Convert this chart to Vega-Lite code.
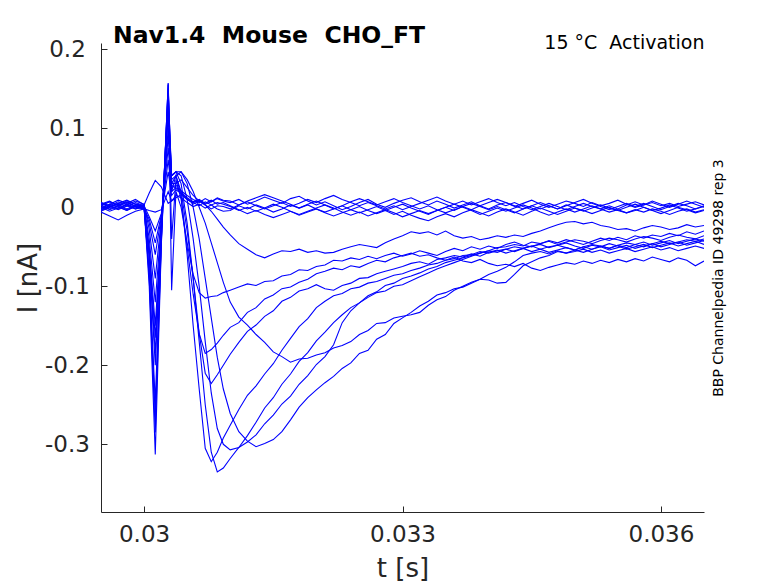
{
  "$schema": "https://vega.github.io/schema/vega-lite/v6.json",
  "width": 603,
  "height": 469,
  "autosize": {"type": "none"},
  "padding": {"left": 101, "top": 43, "right": 74, "bottom": 71},
  "background": "#ffffff",
  "title": {
    "text": "Nav1.4\u00a0\u00a0Mouse\u00a0\u00a0CHO_FT",
    "anchor": "start",
    "frame": "group",
    "dx": 12,
    "dy": 34,
    "offset": 1,
    "baseline": "alphabetic",
    "font": "DejaVu Sans",
    "fontSize": 23.5,
    "fontWeight": "bold",
    "color": "#000000"
  },
  "data": {
    "values": [
{"k":1,"t":0.0295,"i":0.004},{"k":1,"t":0.0296,"i":0.008},{"k":1,"t":0.0297,"i":0.002},{"k":1,"t":0.0298,"i":0.006},{"k":1,"t":0.0299,"i":0.001},{"k":1,"t":0.03,"i":0.003},
{"k":1,"t":0.03006,"i":0.018},{"k":1,"t":0.03013,"i":0.034},{"k":1,"t":0.0302,"i":0.026},{"k":1,"t":0.03028,"i":0.005},{"k":1,"t":0.03032,"i":0.008},{"k":1,"t":0.03037,"i":0.012},{"k":1,"t":0.03043,"i":0.016},{"k":1,"t":0.0305,"i":0.010},{"k":1,"t":0.03057,"i":0.006},{"k":1,"t":0.03064,"i":0.009},{"k":1,"t":0.03071,"i":0.004},{"k":1,"t":0.03078,"i":0.007},{"k":1,"t":0.03085,"i":0.011},{"k":1,"t":0.03092,"i":0.008},
{"k":1,"t":0.031,"i":0.006},{"k":1,"t":0.0311,"i":0.010},{"k":1,"t":0.0312,"i":0.004},{"k":1,"t":0.0313,"i":0.008},{"k":1,"t":0.0314,"i":0.013},{"k":1,"t":0.0315,"i":0.009},{"k":1,"t":0.0316,"i":0.005},{"k":1,"t":0.0317,"i":0.011},{"k":1,"t":0.0318,"i":0.014},{"k":1,"t":0.0319,"i":0.008},
{"k":1,"t":0.032,"i":0.003},{"k":1,"t":0.0321,"i":0.007},{"k":1,"t":0.0322,"i":0.002},{"k":1,"t":0.0323,"i":-0.003},{"k":1,"t":0.0324,"i":0.001},{"k":1,"t":0.0325,"i":0.006},{"k":1,"t":0.0326,"i":0.010},{"k":1,"t":0.0327,"i":0.004},{"k":1,"t":0.0328,"i":0.000},{"k":1,"t":0.0329,"i":0.005},
{"k":1,"t":0.033,"i":0.009},{"k":1,"t":0.0331,"i":0.012},{"k":1,"t":0.0332,"i":0.007},{"k":1,"t":0.0333,"i":0.003},{"k":1,"t":0.0334,"i":0.008},{"k":1,"t":0.0335,"i":0.004},{"k":1,"t":0.0336,"i":-0.001},{"k":1,"t":0.0337,"i":0.003},{"k":1,"t":0.0338,"i":0.007},{"k":1,"t":0.0339,"i":0.002},
{"k":1,"t":0.034,"i":-0.002},{"k":1,"t":0.0341,"i":0.003},{"k":1,"t":0.0342,"i":0.006},{"k":1,"t":0.0343,"i":0.001},{"k":1,"t":0.0344,"i":0.005},{"k":1,"t":0.0345,"i":0.009},{"k":1,"t":0.0346,"i":0.004},{"k":1,"t":0.0347,"i":0.000},{"k":1,"t":0.0348,"i":0.004},{"k":1,"t":0.0349,"i":0.008},
{"k":1,"t":0.035,"i":0.005},{"k":1,"t":0.0351,"i":0.001},{"k":1,"t":0.0352,"i":0.006},{"k":1,"t":0.0353,"i":0.002},{"k":1,"t":0.0354,"i":0.005},{"k":1,"t":0.0355,"i":0.009},{"k":1,"t":0.0356,"i":0.004},{"k":1,"t":0.0357,"i":0.000},{"k":1,"t":0.0358,"i":0.003},{"k":1,"t":0.0359,"i":0.006},
{"k":1,"t":0.036,"i":0.002},{"k":1,"t":0.0361,"i":0.005},{"k":1,"t":0.0362,"i":0.001},{"k":1,"t":0.0363,"i":0.004},{"k":1,"t":0.0364,"i":0.007},{"k":1,"t":0.0365,"i":0.003},

{"k":2,"t":0.0295,"i":-0.003},{"k":2,"t":0.0296,"i":0.002},{"k":2,"t":0.0297,"i":-0.002},{"k":2,"t":0.0298,"i":0.004},{"k":2,"t":0.0299,"i":0.000},{"k":2,"t":0.03,"i":-0.002},
{"k":2,"t":0.03006,"i":-0.004},{"k":2,"t":0.03013,"i":-0.006},{"k":2,"t":0.0302,"i":-0.003},{"k":2,"t":0.03028,"i":0.020},{"k":2,"t":0.03032,"i":0.008},{"k":2,"t":0.03037,"i":0.015},{"k":2,"t":0.03043,"i":0.012},{"k":2,"t":0.0305,"i":0.006},{"k":2,"t":0.03057,"i":0.001},{"k":2,"t":0.03064,"i":0.004},{"k":2,"t":0.03071,"i":-0.001},{"k":2,"t":0.03078,"i":0.003},{"k":2,"t":0.03085,"i":-0.002},{"k":2,"t":0.03092,"i":-0.005},
{"k":2,"t":0.031,"i":-0.004},{"k":2,"t":0.0311,"i":0.002},{"k":2,"t":0.0312,"i":-0.002},{"k":2,"t":0.0313,"i":0.003},{"k":2,"t":0.0314,"i":-0.001},{"k":2,"t":0.0315,"i":-0.006},{"k":2,"t":0.0316,"i":-0.002},{"k":2,"t":0.0317,"i":0.003},{"k":2,"t":0.0318,"i":-0.001},{"k":2,"t":0.0319,"i":0.004},
{"k":2,"t":0.032,"i":0.008},{"k":2,"t":0.0321,"i":0.003},{"k":2,"t":0.0322,"i":-0.002},{"k":2,"t":0.0323,"i":0.002},{"k":2,"t":0.0324,"i":-0.003},{"k":2,"t":0.0325,"i":-0.007},{"k":2,"t":0.0326,"i":-0.003},{"k":2,"t":0.0327,"i":0.001},{"k":2,"t":0.0328,"i":-0.004},{"k":2,"t":0.0329,"i":0.000},
{"k":2,"t":0.033,"i":0.004},{"k":2,"t":0.0331,"i":-0.001},{"k":2,"t":0.0332,"i":-0.005},{"k":2,"t":0.0333,"i":-0.009},{"k":2,"t":0.0334,"i":-0.004},{"k":2,"t":0.0335,"i":0.000},{"k":2,"t":0.0336,"i":-0.004},{"k":2,"t":0.0337,"i":0.001},{"k":2,"t":0.0338,"i":0.005},{"k":2,"t":0.0339,"i":0.001},
{"k":2,"t":0.034,"i":-0.003},{"k":2,"t":0.0341,"i":0.001},{"k":2,"t":0.0342,"i":-0.003},{"k":2,"t":0.0343,"i":-0.007},{"k":2,"t":0.0344,"i":-0.002},{"k":2,"t":0.0345,"i":0.002},{"k":2,"t":0.0346,"i":-0.002},{"k":2,"t":0.0347,"i":0.002},{"k":2,"t":0.0348,"i":-0.002},{"k":2,"t":0.0349,"i":0.003},
{"k":2,"t":0.035,"i":-0.001},{"k":2,"t":0.0351,"i":-0.005},{"k":2,"t":0.0352,"i":-0.001},{"k":2,"t":0.0353,"i":0.003},{"k":2,"t":0.0354,"i":-0.001},{"k":2,"t":0.0355,"i":-0.004},{"k":2,"t":0.0356,"i":0.000},{"k":2,"t":0.0357,"i":0.004},{"k":2,"t":0.0358,"i":0.000},{"k":2,"t":0.0359,"i":-0.004},
{"k":2,"t":0.036,"i":-0.001},{"k":2,"t":0.0361,"i":0.003},{"k":2,"t":0.0362,"i":-0.001},{"k":2,"t":0.0363,"i":-0.005},{"k":2,"t":0.0364,"i":-0.002},{"k":2,"t":0.0365,"i":0.001},

{"k":3,"t":0.0295,"i":0.006},{"k":3,"t":0.0296,"i":0.001},{"k":3,"t":0.0297,"i":0.005},{"k":3,"t":0.0298,"i":0.009},{"k":3,"t":0.0299,"i":0.004},{"k":3,"t":0.03,"i":0.002},
{"k":3,"t":0.03006,"i":-0.012},{"k":3,"t":0.03013,"i":-0.030},{"k":3,"t":0.0302,"i":-0.008},{"k":3,"t":0.03028,"i":0.045},{"k":3,"t":0.03032,"i":0.015},{"k":3,"t":0.03037,"i":0.022},{"k":3,"t":0.03043,"i":0.018},{"k":3,"t":0.0305,"i":0.012},{"k":3,"t":0.03057,"i":0.007},{"k":3,"t":0.03064,"i":0.010},{"k":3,"t":0.03071,"i":0.005},{"k":3,"t":0.03078,"i":0.009},{"k":3,"t":0.03085,"i":0.004},{"k":3,"t":0.03092,"i":0.006},
{"k":3,"t":0.031,"i":0.002},{"k":3,"t":0.0311,"i":-0.003},{"k":3,"t":0.0312,"i":-0.008},{"k":3,"t":0.0313,"i":-0.004},{"k":3,"t":0.0314,"i":-0.009},{"k":3,"t":0.0315,"i":-0.013},{"k":3,"t":0.0316,"i":-0.009},{"k":3,"t":0.0317,"i":-0.005},{"k":3,"t":0.0318,"i":-0.010},{"k":3,"t":0.0319,"i":-0.006},
{"k":3,"t":0.032,"i":-0.002},{"k":3,"t":0.0321,"i":-0.007},{"k":3,"t":0.0322,"i":-0.011},{"k":3,"t":0.0323,"i":-0.007},{"k":3,"t":0.0324,"i":-0.003},{"k":3,"t":0.0325,"i":0.001},{"k":3,"t":0.0326,"i":-0.004},{"k":3,"t":0.0327,"i":-0.008},{"k":3,"t":0.0328,"i":-0.004},{"k":3,"t":0.0329,"i":-0.009},
{"k":3,"t":0.033,"i":-0.005},{"k":3,"t":0.0331,"i":-0.010},{"k":3,"t":0.0332,"i":-0.014},{"k":3,"t":0.0333,"i":-0.017},{"k":3,"t":0.0334,"i":-0.012},{"k":3,"t":0.0335,"i":-0.008},{"k":3,"t":0.0336,"i":-0.012},{"k":3,"t":0.0337,"i":-0.007},{"k":3,"t":0.0338,"i":-0.003},{"k":3,"t":0.0339,"i":-0.007},
{"k":3,"t":0.034,"i":-0.011},{"k":3,"t":0.0341,"i":-0.006},{"k":3,"t":0.0342,"i":-0.002},{"k":3,"t":0.0343,"i":-0.006},{"k":3,"t":0.0344,"i":-0.010},{"k":3,"t":0.0345,"i":-0.005},{"k":3,"t":0.0346,"i":-0.001},{"k":3,"t":0.0347,"i":-0.005},{"k":3,"t":0.0348,"i":-0.009},{"k":3,"t":0.0349,"i":-0.005},
{"k":3,"t":0.035,"i":-0.001},{"k":3,"t":0.0351,"i":-0.004},{"k":3,"t":0.0352,"i":-0.008},{"k":3,"t":0.0353,"i":-0.004},{"k":3,"t":0.0354,"i":0.000},{"k":3,"t":0.0355,"i":-0.004},{"k":3,"t":0.0356,"i":-0.007},{"k":3,"t":0.0357,"i":-0.003},{"k":3,"t":0.0358,"i":-0.006},{"k":3,"t":0.0359,"i":-0.002},
{"k":3,"t":0.036,"i":-0.005},{"k":3,"t":0.0361,"i":-0.009},{"k":3,"t":0.0362,"i":-0.005},{"k":3,"t":0.0363,"i":-0.002},{"k":3,"t":0.0364,"i":-0.006},{"k":3,"t":0.0365,"i":-0.003},

{"k":4,"t":0.0295,"i":-0.006},{"k":4,"t":0.0296,"i":-0.011},{"k":4,"t":0.0297,"i":-0.016},{"k":4,"t":0.0298,"i":-0.010},{"k":4,"t":0.0299,"i":-0.005},{"k":4,"t":0.03,"i":-0.002},
{"k":4,"t":0.03006,"i":-0.015},{"k":4,"t":0.03013,"i":-0.045},{"k":4,"t":0.0302,"i":-0.010},{"k":4,"t":0.03028,"i":0.060},{"k":4,"t":0.03032,"i":0.020},{"k":4,"t":0.03037,"i":0.025},{"k":4,"t":0.03043,"i":0.021},{"k":4,"t":0.0305,"i":0.015},{"k":4,"t":0.03057,"i":0.010},{"k":4,"t":0.03064,"i":0.006},{"k":4,"t":0.03071,"i":0.011},{"k":4,"t":0.03078,"i":0.007},{"k":4,"t":0.03085,"i":0.012},{"k":4,"t":0.03092,"i":0.009},
{"k":4,"t":0.031,"i":0.008},{"k":4,"t":0.0311,"i":0.003},{"k":4,"t":0.0312,"i":0.007},{"k":4,"t":0.0313,"i":0.002},{"k":4,"t":0.0314,"i":-0.002},{"k":4,"t":0.0315,"i":0.002},{"k":4,"t":0.0316,"i":0.006},{"k":4,"t":0.0317,"i":0.001},{"k":4,"t":0.0318,"i":0.005},{"k":4,"t":0.0319,"i":0.010},
{"k":4,"t":0.032,"i":0.006},{"k":4,"t":0.0321,"i":0.011},{"k":4,"t":0.0322,"i":0.015},{"k":4,"t":0.0323,"i":0.010},{"k":4,"t":0.0324,"i":0.006},{"k":4,"t":0.0325,"i":0.002},{"k":4,"t":0.0326,"i":0.006},{"k":4,"t":0.0327,"i":0.002},{"k":4,"t":0.0328,"i":-0.002},{"k":4,"t":0.0329,"i":0.002},
{"k":4,"t":0.033,"i":-0.003},{"k":4,"t":0.0331,"i":0.001},{"k":4,"t":0.0332,"i":0.005},{"k":4,"t":0.0333,"i":0.009},{"k":4,"t":0.0334,"i":0.013},{"k":4,"t":0.0335,"i":0.008},{"k":4,"t":0.0336,"i":0.004},{"k":4,"t":0.0337,"i":0.008},{"k":4,"t":0.0338,"i":0.003},{"k":4,"t":0.0339,"i":0.007},
{"k":4,"t":0.034,"i":0.011},{"k":4,"t":0.0341,"i":0.006},{"k":4,"t":0.0342,"i":0.002},{"k":4,"t":0.0343,"i":0.006},{"k":4,"t":0.0344,"i":0.001},{"k":4,"t":0.0345,"i":-0.003},{"k":4,"t":0.0346,"i":0.001},{"k":4,"t":0.0347,"i":0.005},{"k":4,"t":0.0348,"i":0.001},{"k":4,"t":0.0349,"i":-0.003},
{"k":4,"t":0.035,"i":0.001},{"k":4,"t":0.0351,"i":0.005},{"k":4,"t":0.0352,"i":0.001},{"k":4,"t":0.0353,"i":-0.002},{"k":4,"t":0.0354,"i":0.002},{"k":4,"t":0.0355,"i":-0.002},{"k":4,"t":0.0356,"i":0.003},{"k":4,"t":0.0357,"i":0.007},{"k":4,"t":0.0358,"i":0.003},{"k":4,"t":0.0359,"i":0.008},
{"k":4,"t":0.036,"i":0.004},{"k":4,"t":0.0361,"i":0.000},{"k":4,"t":0.0362,"i":0.004},{"k":4,"t":0.0363,"i":0.008},{"k":4,"t":0.0364,"i":0.004},{"k":4,"t":0.0365,"i":0.000},

{"k":5,"t":0.0295,"i":0.002},{"k":5,"t":0.0296,"i":-0.003},{"k":5,"t":0.0297,"i":0.001},{"k":5,"t":0.0298,"i":-0.004},{"k":5,"t":0.0299,"i":0.002},{"k":5,"t":0.03,"i":0.000},
{"k":5,"t":0.03006,"i":-0.020},{"k":5,"t":0.03013,"i":-0.060},{"k":5,"t":0.0302,"i":-0.012},{"k":5,"t":0.03028,"i":0.075},{"k":5,"t":0.03032,"i":0.025},{"k":5,"t":0.03037,"i":0.028},{"k":5,"t":0.03043,"i":0.020},{"k":5,"t":0.0305,"i":0.011},{"k":5,"t":0.03057,"i":0.004},{"k":5,"t":0.03064,"i":0.008},{"k":5,"t":0.03071,"i":0.003},{"k":5,"t":0.03078,"i":-0.002},{"k":5,"t":0.03085,"i":0.002},{"k":5,"t":0.03092,"i":0.001},
{"k":5,"t":0.031,"i":-0.002},{"k":5,"t":0.0311,"i":0.003},{"k":5,"t":0.0312,"i":0.008},{"k":5,"t":0.0313,"i":0.012},{"k":5,"t":0.0314,"i":0.016},{"k":5,"t":0.0315,"i":0.012},{"k":5,"t":0.0316,"i":0.008},{"k":5,"t":0.0317,"i":0.004},{"k":5,"t":0.0318,"i":-0.001},{"k":5,"t":0.0319,"i":0.003},
{"k":5,"t":0.032,"i":-0.002},{"k":5,"t":0.0321,"i":-0.006},{"k":5,"t":0.0322,"i":-0.002},{"k":5,"t":0.0323,"i":0.002},{"k":5,"t":0.0324,"i":0.007},{"k":5,"t":0.0325,"i":0.011},{"k":5,"t":0.0326,"i":0.007},{"k":5,"t":0.0327,"i":0.003},{"k":5,"t":0.0328,"i":0.007},{"k":5,"t":0.0329,"i":0.011},
{"k":5,"t":0.033,"i":0.006},{"k":5,"t":0.0331,"i":0.002},{"k":5,"t":0.0332,"i":-0.002},{"k":5,"t":0.0333,"i":0.002},{"k":5,"t":0.0334,"i":-0.003},{"k":5,"t":0.0335,"i":-0.007},{"k":5,"t":0.0336,"i":-0.003},{"k":5,"t":0.0337,"i":0.001},{"k":5,"t":0.0338,"i":-0.003},{"k":5,"t":0.0339,"i":0.002},
{"k":5,"t":0.034,"i":0.006},{"k":5,"t":0.0341,"i":0.010},{"k":5,"t":0.0342,"i":0.006},{"k":5,"t":0.0343,"i":0.002},{"k":5,"t":0.0344,"i":-0.002},{"k":5,"t":0.0345,"i":0.002},{"k":5,"t":0.0346,"i":0.006},{"k":5,"t":0.0347,"i":0.002},{"k":5,"t":0.0348,"i":-0.002},{"k":5,"t":0.0349,"i":0.002},
{"k":5,"t":0.035,"i":0.006},{"k":5,"t":0.0351,"i":0.010},{"k":5,"t":0.0352,"i":0.005},{"k":5,"t":0.0353,"i":0.001},{"k":5,"t":0.0354,"i":-0.003},{"k":5,"t":0.0355,"i":0.001},{"k":5,"t":0.0356,"i":0.005},{"k":5,"t":0.0357,"i":0.001},{"k":5,"t":0.0358,"i":0.005},{"k":5,"t":0.0359,"i":0.001},
{"k":5,"t":0.036,"i":-0.003},{"k":5,"t":0.0361,"i":0.001},{"k":5,"t":0.0362,"i":0.005},{"k":5,"t":0.0363,"i":0.002},{"k":5,"t":0.0364,"i":-0.002},{"k":5,"t":0.0365,"i":0.002},

{"k":6,"t":0.0295,"i":-0.002},{"k":6,"t":0.0296,"i":0.004},{"k":6,"t":0.0297,"i":0.009},{"k":6,"t":0.0298,"i":0.005},{"k":6,"t":0.0299,"i":0.010},{"k":6,"t":0.03,"i":0.003},
{"k":6,"t":0.03006,"i":-0.028},{"k":6,"t":0.03013,"i":-0.090},{"k":6,"t":0.0302,"i":-0.015},{"k":6,"t":0.03028,"i":0.090},{"k":6,"t":0.03032,"i":0.028},{"k":6,"t":0.03037,"i":0.024},{"k":6,"t":0.03043,"i":0.018},{"k":6,"t":0.0305,"i":0.010},{"k":6,"t":0.03057,"i":0.006},{"k":6,"t":0.03064,"i":0.002},{"k":6,"t":0.03071,"i":0.007},{"k":6,"t":0.03078,"i":0.003},{"k":6,"t":0.03085,"i":0.006},{"k":6,"t":0.03092,"i":0.004},
{"k":6,"t":0.031,"i":0.001},{"k":6,"t":0.0311,"i":-0.004},{"k":6,"t":0.0312,"i":0.000},{"k":6,"t":0.0313,"i":-0.005},{"k":6,"t":0.0314,"i":-0.001},{"k":6,"t":0.0315,"i":0.004},{"k":6,"t":0.0316,"i":0.000},{"k":6,"t":0.0317,"i":-0.005},{"k":6,"t":0.0318,"i":-0.009},{"k":6,"t":0.0319,"i":-0.005},
{"k":6,"t":0.032,"i":-0.001},{"k":6,"t":0.0321,"i":0.003},{"k":6,"t":0.0322,"i":-0.001},{"k":6,"t":0.0323,"i":-0.006},{"k":6,"t":0.0324,"i":-0.010},{"k":6,"t":0.0325,"i":-0.006},{"k":6,"t":0.0326,"i":-0.011},{"k":6,"t":0.0327,"i":-0.007},{"k":6,"t":0.0328,"i":-0.003},{"k":6,"t":0.0329,"i":-0.007},
{"k":6,"t":0.033,"i":-0.012},{"k":6,"t":0.0331,"i":-0.008},{"k":6,"t":0.0332,"i":-0.004},{"k":6,"t":0.0333,"i":-0.008},{"k":6,"t":0.0334,"i":-0.004},{"k":6,"t":0.0335,"i":0.000},{"k":6,"t":0.0336,"i":0.004},{"k":6,"t":0.0337,"i":0.000},{"k":6,"t":0.0338,"i":-0.004},{"k":6,"t":0.0339,"i":-0.009},
{"k":6,"t":0.034,"i":-0.005},{"k":6,"t":0.0341,"i":-0.001},{"k":6,"t":0.0342,"i":-0.005},{"k":6,"t":0.0343,"i":-0.001},{"k":6,"t":0.0344,"i":0.003},{"k":6,"t":0.0345,"i":-0.001},{"k":6,"t":0.0346,"i":-0.006},{"k":6,"t":0.0347,"i":-0.010},{"k":6,"t":0.0348,"i":-0.006},{"k":6,"t":0.0349,"i":-0.002},
{"k":6,"t":0.035,"i":-0.006},{"k":6,"t":0.0351,"i":-0.002},{"k":6,"t":0.0352,"i":0.002},{"k":6,"t":0.0353,"i":-0.002},{"k":6,"t":0.0354,"i":-0.006},{"k":6,"t":0.0355,"i":-0.003},{"k":6,"t":0.0356,"i":-0.007},{"k":6,"t":0.0357,"i":-0.004},{"k":6,"t":0.0358,"i":0.000},{"k":6,"t":0.0359,"i":-0.004},
{"k":6,"t":0.036,"i":-0.008},{"k":6,"t":0.0361,"i":-0.004},{"k":6,"t":0.0362,"i":0.000},{"k":6,"t":0.0363,"i":-0.003},{"k":6,"t":0.0364,"i":-0.007},{"k":6,"t":0.0365,"i":-0.004},

{"k":7,"t":0.0295,"i":0.005},{"k":7,"t":0.0296,"i":0.000},{"k":7,"t":0.0297,"i":0.004},{"k":7,"t":0.0298,"i":-0.002},{"k":7,"t":0.0299,"i":0.003},{"k":7,"t":0.03,"i":0.001},
{"k":7,"t":0.03006,"i":-0.040},{"k":7,"t":0.03013,"i":-0.120},{"k":7,"t":0.0302,"i":-0.020},{"k":7,"t":0.03028,"i":0.100},{"k":7,"t":0.03032,"i":0.030},{"k":7,"t":0.03037,"i":0.030},{"k":7,"t":0.03043,"i":0.035},{"k":7,"t":0.0305,"i":0.025},{"k":7,"t":0.03057,"i":0.015},{"k":7,"t":0.03064,"i":0.008},{"k":7,"t":0.03071,"i":0.003},{"k":7,"t":0.03078,"i":-0.005},{"k":7,"t":0.03085,"i":-0.015},{"k":7,"t":0.03092,"i":-0.025},
{"k":7,"t":0.031,"i":-0.035},{"k":7,"t":0.0311,"i":-0.046},{"k":7,"t":0.0312,"i":-0.053},{"k":7,"t":0.0313,"i":-0.060},{"k":7,"t":0.0314,"i":-0.064},{"k":7,"t":0.0315,"i":-0.059},{"k":7,"t":0.0316,"i":-0.055},{"k":7,"t":0.0317,"i":-0.056},{"k":7,"t":0.0318,"i":-0.053},{"k":7,"t":0.0319,"i":-0.057},
{"k":7,"t":0.032,"i":-0.055},{"k":7,"t":0.0321,"i":-0.058},{"k":7,"t":0.0322,"i":-0.057},{"k":7,"t":0.0323,"i":-0.053},{"k":7,"t":0.0324,"i":-0.050},{"k":7,"t":0.0325,"i":-0.047},{"k":7,"t":0.0326,"i":-0.049},{"k":7,"t":0.0327,"i":-0.051},{"k":7,"t":0.0328,"i":-0.045},{"k":7,"t":0.0329,"i":-0.040},
{"k":7,"t":0.033,"i":-0.036},{"k":7,"t":0.0331,"i":-0.031},{"k":7,"t":0.0332,"i":-0.033},{"k":7,"t":0.0333,"i":-0.031},{"k":7,"t":0.0334,"i":-0.035},{"k":7,"t":0.0335,"i":-0.030},{"k":7,"t":0.0336,"i":-0.036},{"k":7,"t":0.0337,"i":-0.039},{"k":7,"t":0.0338,"i":-0.037},{"k":7,"t":0.0339,"i":-0.041},
{"k":7,"t":0.034,"i":-0.039},{"k":7,"t":0.0341,"i":-0.036},{"k":7,"t":0.0342,"i":-0.038},{"k":7,"t":0.0343,"i":-0.035},{"k":7,"t":0.0344,"i":-0.037},{"k":7,"t":0.0345,"i":-0.033},{"k":7,"t":0.0346,"i":-0.030},{"k":7,"t":0.0347,"i":-0.026},{"k":7,"t":0.0348,"i":-0.022},{"k":7,"t":0.0349,"i":-0.019},
{"k":7,"t":0.035,"i":-0.018},{"k":7,"t":0.0351,"i":-0.021},{"k":7,"t":0.0352,"i":-0.019},{"k":7,"t":0.0353,"i":-0.023},{"k":7,"t":0.0354,"i":-0.025},{"k":7,"t":0.0355,"i":-0.028},{"k":7,"t":0.0356,"i":-0.027},{"k":7,"t":0.0357,"i":-0.030},{"k":7,"t":0.0358,"i":-0.026},{"k":7,"t":0.0359,"i":-0.023},
{"k":7,"t":0.036,"i":-0.025},{"k":7,"t":0.0361,"i":-0.028},{"k":7,"t":0.0362,"i":-0.026},{"k":7,"t":0.0363,"i":-0.022},{"k":7,"t":0.0364,"i":-0.025},{"k":7,"t":0.0365,"i":-0.023},

{"k":8,"t":0.0295,"i":-0.004},{"k":8,"t":0.0296,"i":0.001},{"k":8,"t":0.0297,"i":-0.003},{"k":8,"t":0.0298,"i":0.002},{"k":8,"t":0.0299,"i":-0.002},{"k":8,"t":0.03,"i":0.000},
{"k":8,"t":0.03006,"i":-0.050},{"k":8,"t":0.03013,"i":-0.150},{"k":8,"t":0.0302,"i":-0.025},{"k":8,"t":0.03028,"i":0.115},{"k":8,"t":0.03032,"i":0.035},{"k":8,"t":0.03037,"i":0.040},{"k":8,"t":0.03043,"i":0.045},{"k":8,"t":0.0305,"i":0.035},{"k":8,"t":0.03057,"i":0.020},{"k":8,"t":0.03064,"i":0.000},{"k":8,"t":0.03071,"i":-0.020},{"k":8,"t":0.03078,"i":-0.045},{"k":8,"t":0.03085,"i":-0.070},{"k":8,"t":0.03092,"i":-0.095},
{"k":8,"t":0.031,"i":-0.120},{"k":8,"t":0.0311,"i":-0.139},{"k":8,"t":0.0312,"i":-0.149},{"k":8,"t":0.0313,"i":-0.161},{"k":8,"t":0.0314,"i":-0.171},{"k":8,"t":0.0315,"i":-0.183},{"k":8,"t":0.0316,"i":-0.189},{"k":8,"t":0.0317,"i":-0.196},{"k":8,"t":0.0318,"i":-0.192},{"k":8,"t":0.0319,"i":-0.191},
{"k":8,"t":0.032,"i":-0.187},{"k":8,"t":0.0321,"i":-0.184},{"k":8,"t":0.0322,"i":-0.178},{"k":8,"t":0.0323,"i":-0.175},{"k":8,"t":0.0324,"i":-0.170},{"k":8,"t":0.0325,"i":-0.161},{"k":8,"t":0.0326,"i":-0.156},{"k":8,"t":0.0327,"i":-0.147},{"k":8,"t":0.0328,"i":-0.146},{"k":8,"t":0.0329,"i":-0.140},
{"k":8,"t":0.033,"i":-0.138},{"k":8,"t":0.0331,"i":-0.136},{"k":8,"t":0.0332,"i":-0.133},{"k":8,"t":0.0333,"i":-0.124},{"k":8,"t":0.0334,"i":-0.117},{"k":8,"t":0.0335,"i":-0.113},{"k":8,"t":0.0336,"i":-0.105},{"k":8,"t":0.0337,"i":-0.100},{"k":8,"t":0.0338,"i":-0.095},{"k":8,"t":0.0339,"i":-0.091},
{"k":8,"t":0.034,"i":-0.092},{"k":8,"t":0.0341,"i":-0.096},{"k":8,"t":0.0342,"i":-0.095},{"k":8,"t":0.0343,"i":-0.085},{"k":8,"t":0.0344,"i":-0.074},{"k":8,"t":0.0345,"i":-0.069},{"k":8,"t":0.0346,"i":-0.064},{"k":8,"t":0.0347,"i":-0.061},{"k":8,"t":0.0348,"i":-0.056},{"k":8,"t":0.0349,"i":-0.058},
{"k":8,"t":0.035,"i":-0.054},{"k":8,"t":0.0351,"i":-0.057},{"k":8,"t":0.0352,"i":-0.053},{"k":8,"t":0.0353,"i":-0.050},{"k":8,"t":0.0354,"i":-0.054},{"k":8,"t":0.0355,"i":-0.051},{"k":8,"t":0.0356,"i":-0.048},{"k":8,"t":0.0357,"i":-0.052},{"k":8,"t":0.0358,"i":-0.049},{"k":8,"t":0.0359,"i":-0.046},
{"k":8,"t":0.036,"i":-0.050},{"k":8,"t":0.0361,"i":-0.047},{"k":8,"t":0.0362,"i":-0.044},{"k":8,"t":0.0363,"i":-0.048},{"k":8,"t":0.0364,"i":-0.045},{"k":8,"t":0.0365,"i":-0.042},

{"k":9,"t":0.0295,"i":0.003},{"k":9,"t":0.0296,"i":0.007},{"k":9,"t":0.0297,"i":0.002},{"k":9,"t":0.0298,"i":-0.003},{"k":9,"t":0.0299,"i":0.001},{"k":9,"t":0.03,"i":-0.001},
{"k":9,"t":0.03006,"i":-0.055},{"k":9,"t":0.03013,"i":-0.165},{"k":9,"t":0.0302,"i":-0.028},{"k":9,"t":0.03028,"i":0.125},{"k":9,"t":0.03032,"i":0.040},{"k":9,"t":0.03037,"i":0.045},{"k":9,"t":0.03043,"i":0.045},{"k":9,"t":0.0305,"i":0.030},{"k":9,"t":0.03057,"i":0.000},{"k":9,"t":0.03064,"i":-0.040},{"k":9,"t":0.03071,"i":-0.090},{"k":9,"t":0.03078,"i":-0.140},{"k":9,"t":0.03085,"i":-0.190},{"k":9,"t":0.03092,"i":-0.230},
{"k":9,"t":0.031,"i":-0.261},{"k":9,"t":0.0311,"i":-0.284},{"k":9,"t":0.0312,"i":-0.296},{"k":9,"t":0.0313,"i":-0.303},{"k":9,"t":0.0314,"i":-0.299},{"k":9,"t":0.0315,"i":-0.294},{"k":9,"t":0.0316,"i":-0.284},{"k":9,"t":0.0317,"i":-0.269},{"k":9,"t":0.0318,"i":-0.253},{"k":9,"t":0.0319,"i":-0.241},
{"k":9,"t":0.032,"i":-0.231},{"k":9,"t":0.0321,"i":-0.222},{"k":9,"t":0.0322,"i":-0.214},{"k":9,"t":0.0323,"i":-0.204},{"k":9,"t":0.0324,"i":-0.197},{"k":9,"t":0.0325,"i":-0.185},{"k":9,"t":0.0326,"i":-0.181},{"k":9,"t":0.0327,"i":-0.167},{"k":9,"t":0.0328,"i":-0.161},{"k":9,"t":0.0329,"i":-0.147},
{"k":9,"t":0.033,"i":-0.140},{"k":9,"t":0.0331,"i":-0.133},{"k":9,"t":0.0332,"i":-0.125},{"k":9,"t":0.0333,"i":-0.119},{"k":9,"t":0.0334,"i":-0.111},{"k":9,"t":0.0335,"i":-0.108},{"k":9,"t":0.0336,"i":-0.103},{"k":9,"t":0.0337,"i":-0.101},{"k":9,"t":0.0338,"i":-0.096},{"k":9,"t":0.0339,"i":-0.091},
{"k":9,"t":0.034,"i":-0.085},{"k":9,"t":0.0341,"i":-0.081},{"k":9,"t":0.0342,"i":-0.076},{"k":9,"t":0.0343,"i":-0.069},{"k":9,"t":0.0344,"i":-0.061},{"k":9,"t":0.0345,"i":-0.058},{"k":9,"t":0.0346,"i":-0.056},{"k":9,"t":0.0347,"i":-0.059},{"k":9,"t":0.0348,"i":-0.055},{"k":9,"t":0.0349,"i":-0.058},
{"k":9,"t":0.035,"i":-0.056},{"k":9,"t":0.0351,"i":-0.053},{"k":9,"t":0.0352,"i":-0.057},{"k":9,"t":0.0353,"i":-0.054},{"k":9,"t":0.0354,"i":-0.058},{"k":9,"t":0.0355,"i":-0.055},{"k":9,"t":0.0356,"i":-0.052},{"k":9,"t":0.0357,"i":-0.056},{"k":9,"t":0.0358,"i":-0.053},{"k":9,"t":0.0359,"i":-0.050},
{"k":9,"t":0.036,"i":-0.054},{"k":9,"t":0.0361,"i":-0.051},{"k":9,"t":0.0362,"i":-0.055},{"k":9,"t":0.0363,"i":-0.052},{"k":9,"t":0.0364,"i":-0.049},{"k":9,"t":0.0365,"i":-0.052},

{"k":10,"t":0.0295,"i":0.000},{"k":10,"t":0.0296,"i":-0.005},{"k":10,"t":0.0297,"i":-0.001},{"k":10,"t":0.0298,"i":0.003},{"k":10,"t":0.0299,"i":-0.002},{"k":10,"t":0.03,"i":0.002},
{"k":10,"t":0.03006,"i":-0.060},{"k":10,"t":0.03013,"i":-0.185},{"k":10,"t":0.0302,"i":-0.030},{"k":10,"t":0.03028,"i":0.135},{"k":10,"t":0.03032,"i":0.040},{"k":10,"t":0.03037,"i":0.045},{"k":10,"t":0.03043,"i":0.040},{"k":10,"t":0.0305,"i":0.010},{"k":10,"t":0.03057,"i":-0.040},{"k":10,"t":0.03064,"i":-0.100},{"k":10,"t":0.03071,"i":-0.170},{"k":10,"t":0.03078,"i":-0.235},{"k":10,"t":0.03085,"i":-0.280},{"k":10,"t":0.03092,"i":-0.300},
{"k":10,"t":0.031,"i":-0.307},{"k":10,"t":0.0311,"i":-0.304},{"k":10,"t":0.0312,"i":-0.297},{"k":10,"t":0.0313,"i":-0.288},{"k":10,"t":0.0314,"i":-0.274},{"k":10,"t":0.0315,"i":-0.263},{"k":10,"t":0.0316,"i":-0.249},{"k":10,"t":0.0317,"i":-0.239},{"k":10,"t":0.0318,"i":-0.224},{"k":10,"t":0.0319,"i":-0.213},
{"k":10,"t":0.032,"i":-0.199},{"k":10,"t":0.0321,"i":-0.189},{"k":10,"t":0.0322,"i":-0.174},{"k":10,"t":0.0323,"i":-0.146},{"k":10,"t":0.0324,"i":-0.131},{"k":10,"t":0.0325,"i":-0.121},{"k":10,"t":0.0326,"i":-0.114},{"k":10,"t":0.0327,"i":-0.108},{"k":10,"t":0.0328,"i":-0.106},{"k":10,"t":0.0329,"i":-0.100},
{"k":10,"t":0.033,"i":-0.098},{"k":10,"t":0.0331,"i":-0.093},{"k":10,"t":0.0332,"i":-0.088},{"k":10,"t":0.0333,"i":-0.083},{"k":10,"t":0.0334,"i":-0.078},{"k":10,"t":0.0335,"i":-0.074},{"k":10,"t":0.0336,"i":-0.070},{"k":10,"t":0.0337,"i":-0.066},{"k":10,"t":0.0338,"i":-0.062},{"k":10,"t":0.0339,"i":-0.058},
{"k":10,"t":0.034,"i":-0.055},{"k":10,"t":0.0341,"i":-0.051},{"k":10,"t":0.0342,"i":-0.050},{"k":10,"t":0.0343,"i":-0.047},{"k":10,"t":0.0344,"i":-0.049},{"k":10,"t":0.0345,"i":-0.044},{"k":10,"t":0.0346,"i":-0.046},{"k":10,"t":0.0347,"i":-0.043},{"k":10,"t":0.0348,"i":-0.047},{"k":10,"t":0.0349,"i":-0.044},
{"k":10,"t":0.035,"i":-0.041},{"k":10,"t":0.0351,"i":-0.043},{"k":10,"t":0.0352,"i":-0.046},{"k":10,"t":0.0353,"i":-0.042},{"k":10,"t":0.0354,"i":-0.039},{"k":10,"t":0.0355,"i":-0.041},{"k":10,"t":0.0356,"i":-0.044},{"k":10,"t":0.0357,"i":-0.040},{"k":10,"t":0.0358,"i":-0.037},{"k":10,"t":0.0359,"i":-0.039},
{"k":10,"t":0.036,"i":-0.042},{"k":10,"t":0.0361,"i":-0.038},{"k":10,"t":0.0362,"i":-0.035},{"k":10,"t":0.0363,"i":-0.038},{"k":10,"t":0.0364,"i":-0.040},{"k":10,"t":0.0365,"i":-0.036},

{"k":11,"t":0.0295,"i":0.006},{"k":11,"t":0.0296,"i":0.002},{"k":11,"t":0.0297,"i":0.007},{"k":11,"t":0.0298,"i":0.003},{"k":11,"t":0.0299,"i":0.008},{"k":11,"t":0.03,"i":0.004},
{"k":11,"t":0.03006,"i":-0.065},{"k":11,"t":0.03013,"i":-0.200},{"k":11,"t":0.0302,"i":-0.032},{"k":11,"t":0.03028,"i":0.145},{"k":11,"t":0.03032,"i":0.040},{"k":11,"t":0.03037,"i":0.045},{"k":11,"t":0.03043,"i":0.030},{"k":11,"t":0.0305,"i":-0.020},{"k":11,"t":0.03057,"i":-0.090},{"k":11,"t":0.03064,"i":-0.170},{"k":11,"t":0.03071,"i":-0.250},{"k":11,"t":0.03078,"i":-0.310},{"k":11,"t":0.03085,"i":-0.335},{"k":11,"t":0.03092,"i":-0.330},
{"k":11,"t":0.031,"i":-0.318},{"k":11,"t":0.0311,"i":-0.304},{"k":11,"t":0.0312,"i":-0.289},{"k":11,"t":0.0313,"i":-0.272},{"k":11,"t":0.0314,"i":-0.254},{"k":11,"t":0.0315,"i":-0.241},{"k":11,"t":0.0316,"i":-0.224},{"k":11,"t":0.0317,"i":-0.211},{"k":11,"t":0.0318,"i":-0.195},{"k":11,"t":0.0319,"i":-0.184},
{"k":11,"t":0.032,"i":-0.169},{"k":11,"t":0.0321,"i":-0.158},{"k":11,"t":0.0322,"i":-0.146},{"k":11,"t":0.0323,"i":-0.136},{"k":11,"t":0.0324,"i":-0.127},{"k":11,"t":0.0325,"i":-0.121},{"k":11,"t":0.0326,"i":-0.112},{"k":11,"t":0.0327,"i":-0.107},{"k":11,"t":0.0328,"i":-0.099},{"k":11,"t":0.0329,"i":-0.096},
{"k":11,"t":0.033,"i":-0.090},{"k":11,"t":0.0331,"i":-0.087},{"k":11,"t":0.0332,"i":-0.083},{"k":11,"t":0.0333,"i":-0.078},{"k":11,"t":0.0334,"i":-0.075},{"k":11,"t":0.0335,"i":-0.070},{"k":11,"t":0.0336,"i":-0.067},{"k":11,"t":0.0337,"i":-0.064},{"k":11,"t":0.0338,"i":-0.061},{"k":11,"t":0.0339,"i":-0.058},
{"k":11,"t":0.034,"i":-0.055},{"k":11,"t":0.0341,"i":-0.057},{"k":11,"t":0.0342,"i":-0.053},{"k":11,"t":0.0343,"i":-0.050},{"k":11,"t":0.0344,"i":-0.052},{"k":11,"t":0.0345,"i":-0.049},{"k":11,"t":0.0346,"i":-0.047},{"k":11,"t":0.0347,"i":-0.051},{"k":11,"t":0.0348,"i":-0.048},{"k":11,"t":0.0349,"i":-0.045},
{"k":11,"t":0.035,"i":-0.049},{"k":11,"t":0.0351,"i":-0.052},{"k":11,"t":0.0352,"i":-0.048},{"k":11,"t":0.0353,"i":-0.050},{"k":11,"t":0.0354,"i":-0.046},{"k":11,"t":0.0355,"i":-0.049},{"k":11,"t":0.0356,"i":-0.053},{"k":11,"t":0.0357,"i":-0.050},{"k":11,"t":0.0358,"i":-0.047},{"k":11,"t":0.0359,"i":-0.051},
{"k":11,"t":0.036,"i":-0.048},{"k":11,"t":0.0361,"i":-0.045},{"k":11,"t":0.0362,"i":-0.049},{"k":11,"t":0.0363,"i":-0.046},{"k":11,"t":0.0364,"i":-0.043},{"k":11,"t":0.0365,"i":-0.047},

{"k":12,"t":0.0295,"i":-0.001},{"k":12,"t":0.0296,"i":0.004},{"k":12,"t":0.0297,"i":0.000},{"k":12,"t":0.0298,"i":-0.004},{"k":12,"t":0.0299,"i":0.001},{"k":12,"t":0.03,"i":-0.002},
{"k":12,"t":0.03006,"i":-0.080},{"k":12,"t":0.03013,"i":-0.247},{"k":12,"t":0.0302,"i":-0.040},{"k":12,"t":0.03028,"i":0.150},{"k":12,"t":0.03032,"i":0.030},{"k":12,"t":0.03037,"i":0.040},{"k":12,"t":0.03043,"i":0.015},{"k":12,"t":0.0305,"i":-0.060},{"k":12,"t":0.03057,"i":-0.150},{"k":12,"t":0.03064,"i":-0.230},{"k":12,"t":0.03071,"i":-0.305},{"k":12,"t":0.03078,"i":-0.322},{"k":12,"t":0.03085,"i":-0.310},{"k":12,"t":0.03092,"i":-0.292},
{"k":12,"t":0.031,"i":-0.276},{"k":12,"t":0.0311,"i":-0.256},{"k":12,"t":0.0312,"i":-0.238},{"k":12,"t":0.0313,"i":-0.226},{"k":12,"t":0.0314,"i":-0.211},{"k":12,"t":0.0315,"i":-0.198},{"k":12,"t":0.0316,"i":-0.181},{"k":12,"t":0.0317,"i":-0.166},{"k":12,"t":0.0318,"i":-0.151},{"k":12,"t":0.0319,"i":-0.141},
{"k":12,"t":0.032,"i":-0.127},{"k":12,"t":0.0321,"i":-0.119},{"k":12,"t":0.0322,"i":-0.112},{"k":12,"t":0.0323,"i":-0.109},{"k":12,"t":0.0324,"i":-0.103},{"k":12,"t":0.0325,"i":-0.101},{"k":12,"t":0.0326,"i":-0.096},{"k":12,"t":0.0327,"i":-0.094},{"k":12,"t":0.0328,"i":-0.090},{"k":12,"t":0.0329,"i":-0.086},
{"k":12,"t":0.033,"i":-0.084},{"k":12,"t":0.0331,"i":-0.080},{"k":12,"t":0.0332,"i":-0.077},{"k":12,"t":0.0333,"i":-0.073},{"k":12,"t":0.0334,"i":-0.071},{"k":12,"t":0.0335,"i":-0.067},{"k":12,"t":0.0336,"i":-0.065},{"k":12,"t":0.0337,"i":-0.061},{"k":12,"t":0.0338,"i":-0.060},{"k":12,"t":0.0339,"i":-0.056},
{"k":12,"t":0.034,"i":-0.058},{"k":12,"t":0.0341,"i":-0.055},{"k":12,"t":0.0342,"i":-0.053},{"k":12,"t":0.0343,"i":-0.056},{"k":12,"t":0.0344,"i":-0.052},{"k":12,"t":0.0345,"i":-0.049},{"k":12,"t":0.0346,"i":-0.053},{"k":12,"t":0.0347,"i":-0.050},{"k":12,"t":0.0348,"i":-0.048},{"k":12,"t":0.0349,"i":-0.051},
{"k":12,"t":0.035,"i":-0.054},{"k":12,"t":0.0351,"i":-0.050},{"k":12,"t":0.0352,"i":-0.047},{"k":12,"t":0.0353,"i":-0.049},{"k":12,"t":0.0354,"i":-0.052},{"k":12,"t":0.0355,"i":-0.048},{"k":12,"t":0.0356,"i":-0.045},{"k":12,"t":0.0357,"i":-0.047},{"k":12,"t":0.0358,"i":-0.050},{"k":12,"t":0.0359,"i":-0.046},
{"k":12,"t":0.036,"i":-0.043},{"k":12,"t":0.0361,"i":-0.046},{"k":12,"t":0.0362,"i":-0.044},{"k":12,"t":0.0363,"i":-0.041},{"k":12,"t":0.0364,"i":-0.043},{"k":12,"t":0.0365,"i":-0.040},

{"k":13,"t":0.0295,"i":0.003},{"k":13,"t":0.0296,"i":-0.002},{"k":13,"t":0.0297,"i":0.002},{"k":13,"t":0.0298,"i":0.006},{"k":13,"t":0.0299,"i":0.002},{"k":13,"t":0.03,"i":0.001},
{"k":13,"t":0.03006,"i":-0.085},{"k":13,"t":0.03013,"i":-0.265},{"k":13,"t":0.0302,"i":-0.042},{"k":13,"t":0.03028,"i":0.155},{"k":13,"t":0.03032,"i":0.020},{"k":13,"t":0.03037,"i":0.040},{"k":13,"t":0.03043,"i":0.020},{"k":13,"t":0.0305,"i":-0.030},{"k":13,"t":0.03057,"i":-0.090},{"k":13,"t":0.03064,"i":-0.160},{"k":13,"t":0.03071,"i":-0.210},{"k":13,"t":0.03078,"i":-0.223},{"k":13,"t":0.03085,"i":-0.212},{"k":13,"t":0.03092,"i":-0.200},
{"k":13,"t":0.031,"i":-0.186},{"k":13,"t":0.0311,"i":-0.171},{"k":13,"t":0.0312,"i":-0.157},{"k":13,"t":0.0313,"i":-0.149},{"k":13,"t":0.0314,"i":-0.138},{"k":13,"t":0.0315,"i":-0.131},{"k":13,"t":0.0316,"i":-0.119},{"k":13,"t":0.0317,"i":-0.114},{"k":13,"t":0.0318,"i":-0.106},{"k":13,"t":0.0319,"i":-0.103},
{"k":13,"t":0.032,"i":-0.098},{"k":13,"t":0.0321,"i":-0.103},{"k":13,"t":0.0322,"i":-0.105},{"k":13,"t":0.0323,"i":-0.099},{"k":13,"t":0.0324,"i":-0.096},{"k":13,"t":0.0325,"i":-0.090},{"k":13,"t":0.0326,"i":-0.089},{"k":13,"t":0.0327,"i":-0.084},{"k":13,"t":0.0328,"i":-0.081},{"k":13,"t":0.0329,"i":-0.078},
{"k":13,"t":0.033,"i":-0.075},{"k":13,"t":0.0331,"i":-0.071},{"k":13,"t":0.0332,"i":-0.069},{"k":13,"t":0.0333,"i":-0.072},{"k":13,"t":0.0334,"i":-0.066},{"k":13,"t":0.0335,"i":-0.064},{"k":13,"t":0.0336,"i":-0.061},{"k":13,"t":0.0337,"i":-0.063},{"k":13,"t":0.0338,"i":-0.059},{"k":13,"t":0.0339,"i":-0.062},
{"k":13,"t":0.034,"i":-0.057},{"k":13,"t":0.0341,"i":-0.054},{"k":13,"t":0.0342,"i":-0.058},{"k":13,"t":0.0343,"i":-0.055},{"k":13,"t":0.0344,"i":-0.052},{"k":13,"t":0.0345,"i":-0.056},{"k":13,"t":0.0346,"i":-0.053},{"k":13,"t":0.0347,"i":-0.057},{"k":13,"t":0.0348,"i":-0.054},{"k":13,"t":0.0349,"i":-0.051},
{"k":13,"t":0.035,"i":-0.054},{"k":13,"t":0.0351,"i":-0.050},{"k":13,"t":0.0352,"i":-0.053},{"k":13,"t":0.0353,"i":-0.049},{"k":13,"t":0.0354,"i":-0.052},{"k":13,"t":0.0355,"i":-0.048},{"k":13,"t":0.0356,"i":-0.051},{"k":13,"t":0.0357,"i":-0.047},{"k":13,"t":0.0358,"i":-0.044},{"k":13,"t":0.0359,"i":-0.048},
{"k":13,"t":0.036,"i":-0.045},{"k":13,"t":0.0361,"i":-0.042},{"k":13,"t":0.0362,"i":-0.046},{"k":13,"t":0.0363,"i":-0.043},{"k":13,"t":0.0364,"i":-0.040},{"k":13,"t":0.0365,"i":-0.043},

{"k":14,"t":0.0295,"i":-0.005},{"k":14,"t":0.0296,"i":0.000},{"k":14,"t":0.0297,"i":0.005},{"k":14,"t":0.0298,"i":0.001},{"k":14,"t":0.0299,"i":0.006},{"k":14,"t":0.03,"i":0.002},
{"k":14,"t":0.03006,"i":-0.090},{"k":14,"t":0.03013,"i":-0.285},{"k":14,"t":0.0302,"i":-0.045},{"k":14,"t":0.03028,"i":0.157},{"k":14,"t":0.03032,"i":-0.040},{"k":14,"t":0.03037,"i":0.035},{"k":14,"t":0.03043,"i":0.010},{"k":14,"t":0.0305,"i":-0.050},{"k":14,"t":0.03057,"i":-0.110},{"k":14,"t":0.03064,"i":-0.160},{"k":14,"t":0.03071,"i":-0.185},{"k":14,"t":0.03078,"i":-0.180},{"k":14,"t":0.03085,"i":-0.172},{"k":14,"t":0.03092,"i":-0.162},
{"k":14,"t":0.031,"i":-0.152},{"k":14,"t":0.0311,"i":-0.146},{"k":14,"t":0.0312,"i":-0.133},{"k":14,"t":0.0313,"i":-0.127},{"k":14,"t":0.0314,"i":-0.116},{"k":14,"t":0.0315,"i":-0.111},{"k":14,"t":0.0316,"i":-0.103},{"k":14,"t":0.0317,"i":-0.101},{"k":14,"t":0.0318,"i":-0.095},{"k":14,"t":0.0319,"i":-0.091},
{"k":14,"t":0.032,"i":-0.084},{"k":14,"t":0.0321,"i":-0.081},{"k":14,"t":0.0322,"i":-0.077},{"k":14,"t":0.0323,"i":-0.079},{"k":14,"t":0.0324,"i":-0.074},{"k":14,"t":0.0325,"i":-0.076},{"k":14,"t":0.0326,"i":-0.071},{"k":14,"t":0.0327,"i":-0.067},{"k":14,"t":0.0328,"i":-0.069},{"k":14,"t":0.0329,"i":-0.064},
{"k":14,"t":0.033,"i":-0.061},{"k":14,"t":0.0331,"i":-0.058},{"k":14,"t":0.0332,"i":-0.062},{"k":14,"t":0.0333,"i":-0.060},{"k":14,"t":0.0334,"i":-0.064},{"k":14,"t":0.0335,"i":-0.067},{"k":14,"t":0.0336,"i":-0.063},{"k":14,"t":0.0337,"i":-0.068},{"k":14,"t":0.0338,"i":-0.070},{"k":14,"t":0.0339,"i":-0.066},
{"k":14,"t":0.034,"i":-0.071},{"k":14,"t":0.0341,"i":-0.074},{"k":14,"t":0.0342,"i":-0.072},{"k":14,"t":0.0343,"i":-0.075},{"k":14,"t":0.0344,"i":-0.071},{"k":14,"t":0.0345,"i":-0.077},{"k":14,"t":0.0346,"i":-0.080},{"k":14,"t":0.0347,"i":-0.076},{"k":14,"t":0.0348,"i":-0.073},{"k":14,"t":0.0349,"i":-0.070},
{"k":14,"t":0.035,"i":-0.072},{"k":14,"t":0.0351,"i":-0.068},{"k":14,"t":0.0352,"i":-0.071},{"k":14,"t":0.0353,"i":-0.067},{"k":14,"t":0.0354,"i":-0.070},{"k":14,"t":0.0355,"i":-0.066},{"k":14,"t":0.0356,"i":-0.069},{"k":14,"t":0.0357,"i":-0.065},{"k":14,"t":0.0358,"i":-0.068},{"k":14,"t":0.0359,"i":-0.063},
{"k":14,"t":0.036,"i":-0.066},{"k":14,"t":0.0361,"i":-0.069},{"k":14,"t":0.0362,"i":-0.064},{"k":14,"t":0.0363,"i":-0.067},{"k":14,"t":0.0364,"i":-0.074},{"k":14,"t":0.0365,"i":-0.068},

{"k":15,"t":0.0295,"i":0.002},{"k":15,"t":0.0296,"i":0.007},{"k":15,"t":0.0297,"i":0.003},{"k":15,"t":0.0298,"i":0.008},{"k":15,"t":0.0299,"i":0.004},{"k":15,"t":0.03,"i":0.001},
{"k":15,"t":0.03006,"i":-0.100},{"k":15,"t":0.03013,"i":-0.313},{"k":15,"t":0.0302,"i":-0.048},{"k":15,"t":0.03028,"i":0.157},{"k":15,"t":0.03032,"i":-0.105},{"k":15,"t":0.03037,"i":0.020},{"k":15,"t":0.03043,"i":0.000},{"k":15,"t":0.0305,"i":-0.045},{"k":15,"t":0.03057,"i":-0.085},{"k":15,"t":0.03064,"i":-0.108},{"k":15,"t":0.03071,"i":-0.115},{"k":15,"t":0.03078,"i":-0.113},{"k":15,"t":0.03085,"i":-0.112},{"k":15,"t":0.03092,"i":-0.108},
{"k":15,"t":0.031,"i":-0.105},{"k":15,"t":0.0311,"i":-0.101},{"k":15,"t":0.0312,"i":-0.097},{"k":15,"t":0.0313,"i":-0.099},{"k":15,"t":0.0314,"i":-0.094},{"k":15,"t":0.0315,"i":-0.093},{"k":15,"t":0.0316,"i":-0.087},{"k":15,"t":0.0317,"i":-0.085},{"k":15,"t":0.0318,"i":-0.079},{"k":15,"t":0.0319,"i":-0.080},
{"k":15,"t":0.032,"i":-0.075},{"k":15,"t":0.0321,"i":-0.073},{"k":15,"t":0.0322,"i":-0.067},{"k":15,"t":0.0323,"i":-0.068},{"k":15,"t":0.0324,"i":-0.064},{"k":15,"t":0.0325,"i":-0.066},{"k":15,"t":0.0326,"i":-0.062},{"k":15,"t":0.0327,"i":-0.065},{"k":15,"t":0.0328,"i":-0.061},{"k":15,"t":0.0329,"i":-0.058},
{"k":15,"t":0.033,"i":-0.062},{"k":15,"t":0.0331,"i":-0.059},{"k":15,"t":0.0332,"i":-0.055},{"k":15,"t":0.0333,"i":-0.058},{"k":15,"t":0.0334,"i":-0.061},{"k":15,"t":0.0335,"i":-0.056},{"k":15,"t":0.0336,"i":-0.052},{"k":15,"t":0.0337,"i":-0.055},{"k":15,"t":0.0338,"i":-0.050},{"k":15,"t":0.0339,"i":-0.053},
{"k":15,"t":0.034,"i":-0.049},{"k":15,"t":0.0341,"i":-0.052},{"k":15,"t":0.0342,"i":-0.047},{"k":15,"t":0.0343,"i":-0.044},{"k":15,"t":0.0344,"i":-0.048},{"k":15,"t":0.0345,"i":-0.050},{"k":15,"t":0.0346,"i":-0.046},{"k":15,"t":0.0347,"i":-0.042},{"k":15,"t":0.0348,"i":-0.045},{"k":15,"t":0.0349,"i":-0.041},
{"k":15,"t":0.035,"i":-0.044},{"k":15,"t":0.0351,"i":-0.047},{"k":15,"t":0.0352,"i":-0.043},{"k":15,"t":0.0353,"i":-0.039},{"k":15,"t":0.0354,"i":-0.042},{"k":15,"t":0.0355,"i":-0.038},{"k":15,"t":0.0356,"i":-0.041},{"k":15,"t":0.0357,"i":-0.036},{"k":15,"t":0.0358,"i":-0.039},{"k":15,"t":0.0359,"i":-0.035},
{"k":15,"t":0.036,"i":-0.037},{"k":15,"t":0.0361,"i":-0.033},{"k":15,"t":0.0362,"i":-0.036},{"k":15,"t":0.0363,"i":-0.031},{"k":15,"t":0.0364,"i":-0.034},{"k":15,"t":0.0365,"i":-0.030}
    ]
  },
  "layer": [
    {
      "mark": {"type": "line", "color": "#0000ff", "strokeWidth": 1.1, "clip": true},
      "encoding": {
        "x": {
          "field": "t",
          "type": "quantitative",
          "scale": {"domain": [0.0295, 0.0365], "nice": false, "zero": false},
          "axis": {
            "values": [0.03, 0.033, 0.036],
            "labelExpr": "'' + datum.value",
            "title": "t [s]",
            "tickSize": -6,
            "labelPadding": 17,
            "titlePadding": 9
          }
        },
        "y": {
          "field": "i",
          "type": "quantitative",
          "scale": {"domain": [-0.3857, 0.208], "nice": false, "zero": false},
          "axis": {
            "values": [-0.3, -0.2, -0.1, 0, 0.1, 0.2],
            "labelExpr": "'' + datum.value",
            "title": "I [nA]",
            "tickSize": -6,
            "labelAlign": "center",
            "labelPadding": 40,
            "titlePadding": 3
          }
        },
        "detail": {"field": "k", "type": "nominal"}
      }
    },
    {
      "mark": {"type": "line", "opacity": 0},
      "encoding": {
        "x": {
          "field": "t",
          "type": "quantitative",
          "axis": {
            "orient": "top",
            "title": "15 °C\u00a0\u00a0Activation",
            "domain": false,
            "ticks": false,
            "labels": false,
            "titleAnchor": "end",
            "titleAlign": "right",
            "titleBaseline": "alphabetic",
            "titlePadding": -5,
            "titleFontSize": 19,
            "titleColor": "#000000"
          }
        },
        "y": {
          "field": "i",
          "type": "quantitative",
          "axis": {
            "orient": "right",
            "title": "BBP Channelpedia ID 49298 rep 3",
            "domain": false,
            "ticks": false,
            "labels": false,
            "titleAngle": 270,
            "titleBaseline": "top",
            "titlePadding": 7,
            "titleFontSize": 14,
            "titleColor": "#000000"
          }
        },
        "detail": {"field": "k", "type": "nominal"}
      }
    }
  ],
  "resolve": {"axis": {"x": "independent", "y": "independent"}},
  "config": {
    "view": {"stroke": null},
    "axis": {
      "grid": false,
      "domainColor": "#262626",
      "domainWidth": 1,
      "tickColor": "#262626",
      "tickWidth": 1,
      "labelFont": "DejaVu Sans",
      "labelFontSize": 23,
      "labelColor": "#262626",
      "titleFont": "DejaVu Sans",
      "titleFontSize": 26,
      "titleFontWeight": "normal",
      "titleColor": "#262626"
    }
  }
}
